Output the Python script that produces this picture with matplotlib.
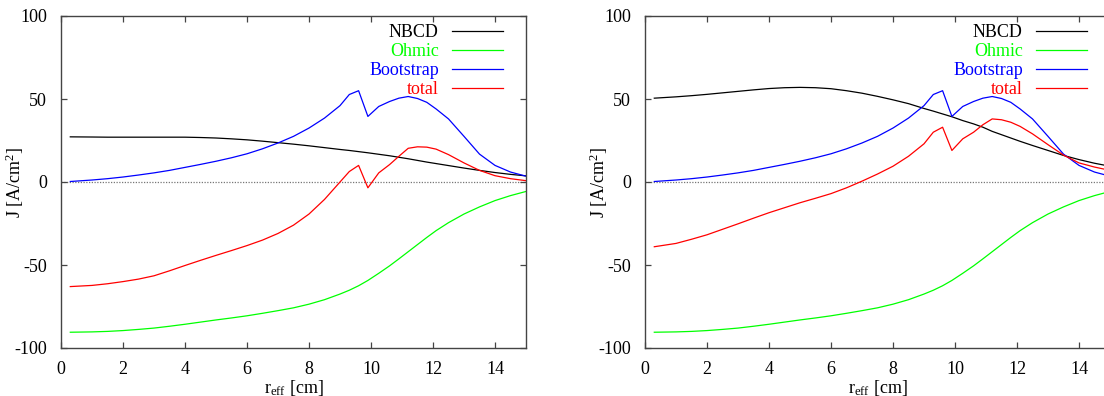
import numpy as np
import matplotlib
matplotlib.use('Agg')
from matplotlib import pyplot as plt

plt.rcParams['font.family'] = ['Liberation Serif', 'DejaVu Serif']
plt.rcParams['mathtext.fontset'] = 'custom'
plt.rcParams['mathtext.rm'] = 'Liberation Serif'
plt.rcParams['mathtext.it'] = 'Liberation Serif:italic'
plt.rcParams['axes.unicode_minus'] = False
plt.rcParams['font.size'] = 13

# radial grid (cm)
r_eff = [0.3, 1, 1.5, 2, 2.5, 3, 3.5, 4, 4.5, 5, 5.5, 6, 6.5, 7, 7.5, 8, 8.5, 9,
         9.3, 9.6, 9.9, 10.25, 10.6, 10.9, 11.2, 11.5, 11.8, 12.1, 12.5, 13,
         13.5, 14, 14.5, 15]

# shared by both panels
bootstrap = [0.3, 1.2, 2, 3, 4.2, 5.5, 7, 8.8, 10.6, 12.5, 14.6, 17, 20, 23.5,
             27.5, 32.5, 38.5, 46, 52.7, 55, 39.5, 45.5, 48.5, 50.5, 51.5, 50.3,
             48, 44, 38, 27.5, 16.8, 10, 6, 3.5]
ohmic = [-90.5, -90.3, -90, -89.5, -88.8, -88, -86.9, -85.7, -84.4, -83.1, -81.9,
         -80.6, -79.1, -77.5, -75.8, -73.6, -70.9, -67.5, -65.2, -62.5, -59.3,
         -55, -50.5, -46.3, -42, -37.7, -33.4, -29.3, -24.5, -19.3, -15, -11.2,
         -8.2, -5.7]

# left panel
nbcd_left = [27.2, 27.1, 27, 27, 27, 27, 27, 27, 26.8, 26.5, 26, 25.4, 24.6, 23.7,
             22.8, 21.8, 20.7, 19.6, 19, 18.3, 17.6, 16.7, 15.8, 14.9, 14, 13, 12,
             11.1, 9.9, 8.4, 7, 5.7, 4.6, 3.7]
total_left = [-63, -62.3, -61.3, -60, -58.5, -56.5, -53.5, -50.3, -47.2, -44.2,
              -41.3, -38.3, -35, -31, -26, -19.3, -10.5, 0, 6.3, 10, -3.5, 5.5,
              10.5, 15.5, 20.3, 21.2, 21, 19.8, 16.5, 11.5, 7, 3.8, 2, 0.8]

# right panel
nbcd_right = [50.5, 51.3, 52, 52.8, 53.7, 54.6, 55.5, 56.3, 56.8, 57, 56.8, 56.2,
              55, 53.5, 51.6, 49.5, 47.2, 44.3, 42.7, 41, 39.3, 37, 35, 33, 30.5,
              28.5, 26.5, 24.5, 22, 19, 16, 13.5, 11.3, 9.5]
total_right = [-39, -37, -34.5, -31.8, -28.5, -25.2, -21.8, -18.5, -15.5, -12.5,
               -9.8, -7, -3.5, 0.5, 4.8, 9.5, 15.5, 23, 30, 33, 19, 26, 30, 34.5,
               38, 37.5, 36, 33.5, 29, 22.5, 16.2, 11.5, 9, 7]

series_names = ['NBCD', 'Ohmic', 'Bootstrap', 'total']
series_colors = ['black', '#00ff00', '#0000ff', '#ff0000']

panels = [
    (nbcd_left, ohmic, bootstrap, total_left),
    (nbcd_right, ohmic, bootstrap, total_right),
]

W, H = 1104, 396
fig = plt.figure(figsize=(W / 100, H / 100), dpi=100)

ax_w = 465 / W
ax_h = 332 / H
ax_bottom = (H - 348) / H
lefts = [61 / W, 645 / W]

for left, data in zip(lefts, panels):
    ax = fig.add_axes([left, ax_bottom, ax_w, ax_h])
    ax.axhline(0, color='#777777', lw=0.9, ls=(0, (1, 1.2)), zorder=1)
    for values, name, color in zip(data, series_names, series_colors):
        ax.plot(r_eff, values, color=color, lw=0.9, label=name, zorder=2)

    ax.set_xlim(0, 15)
    ax.set_ylim(-100, 100)
    ax.set_xticks(range(0, 15, 2))
    ax.set_yticks([-100, -50, 0, 50, 100])
    ax.tick_params(direction='in', length=4, width=0.9, color='#444444',
                   top=True, right=True, labelsize=13)
    ax.tick_params(axis='y', pad=10)
    ax.tick_params(axis='x', pad=9)
    for sp in ax.spines.values():
        sp.set_color('#444444')
        sp.set_linewidth(1.0)

    ax.set_xlabel(r'r$_{\rm eff}$ [cm]', fontsize=13, labelpad=0)
    ax.set_ylabel(r'J [A/cm$^2$]', fontsize=13)
    ax.yaxis.set_label_coords(-0.075, 0.5)

    leg = ax.legend(loc='upper right', bbox_to_anchor=(0.9505, 0.976),
                    markerfirst=False, frameon=False, labelcolor='linecolor',
                    handlelength=2.8, handletextpad=0.75, labelspacing=0.12,
                    borderpad=0, borderaxespad=0, fontsize=13)

fig.savefig('out.png', dpi=100)
